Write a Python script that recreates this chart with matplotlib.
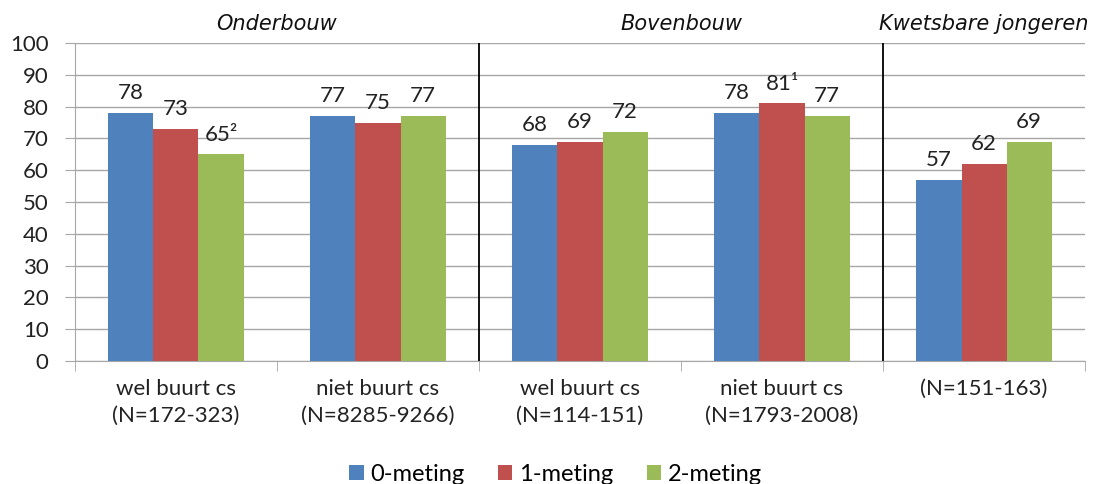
import numpy as np
import matplotlib.pyplot as plt

plt.rcParams['font.family'] = ['Lato', 'DejaVu Sans']

# data
categories = ["wel buurt cs\n(N=172-323)", "niet buurt cs\n(N=8285-9266)",
              "wel buurt cs\n(N=114-151)", "niet buurt cs\n(N=1793-2008)",
              "(N=151-163)"]
meting0 = [78, 77, 68, 78, 57]
meting1 = [73, 75, 69, 81, 62]
meting2 = [65, 77, 72, 77, 69]
labels0 = ["78", "77", "68", "78", "57"]
labels1 = ["73", "75", "69", "81¹", "62"]
labels2 = ["65²", "77", "72", "77", "69"]
series_names = ["0-meting", "1-meting", "2-meting"]
colors = ["#4F81BD", "#C0504D", "#9BBB59"]
groups = ["Onderbouw", "Bovenbouw", "Kwetsbare jongeren"]

fig = plt.figure(figsize=(10.96, 4.84), dpi=100)
ax = fig.add_axes([0.0684, 0.254, 0.9216, 0.657])

x = np.arange(len(categories))
w = 0.223
for i, (vals, labs) in enumerate(zip([meting0, meting1, meting2],
                                     [labels0, labels1, labels2])):
    bars = ax.bar(x + (i - 1) * w, vals, w, color=colors[i],
                  label=series_names[i], zorder=3)
    for b, lab in zip(bars, labs):
        ax.annotate(lab, (b.get_x() + b.get_width() / 2, b.get_height()),
                    xytext=(0, 7), textcoords='offset points',
                    ha='center', va='bottom', fontsize=16, color='#222222')

ax.set_xlim(-0.5, len(categories) - 0.5)
ax.set_ylim(0, 100)
ax.set_yticks(range(0, 101, 10))
ax.yaxis.grid(True, color='#a6a6a6', lw=1, zorder=0)
ax.tick_params(axis='y', labelsize=16, length=7, color='#a6a6a6',
               labelcolor='#222222', pad=12)
ax.set_xticks(x)
ax.set_xticklabels(categories, fontsize=16, color='#222222', linespacing=1.45)
ax.tick_params(axis='x', length=0, pad=13)
ax.set_xticks(np.arange(-0.5, len(categories), 1), minor=True)
ax.tick_params(axis='x', which='minor', length=7, color='#a6a6a6')
for s in ['top', 'right']:
    ax.spines[s].set_visible(False)
for s in ['left', 'bottom']:
    ax.spines[s].set_color('#a6a6a6')

# dividers between groups
ax.axvline(1.5, color='black', lw=1.3, zorder=4)
ax.axvline(3.5, color='black', lw=1.3, zorder=4)

# group headers
for xc, g in zip([0.5, 2.5, 4], groups):
    ax.text(xc, 103, g, ha='center', va='bottom', fontsize=15,
            style='italic', family='DejaVu Sans', color='#111111')

fig.legend(loc='lower center', ncol=3, frameon=False, fontsize=17,
           handlelength=0.6, handleheight=0.6, handletextpad=0.3,
           columnspacing=1.4, bbox_to_anchor=(0.507, -0.045))

fig.savefig("out.png", dpi=100)
